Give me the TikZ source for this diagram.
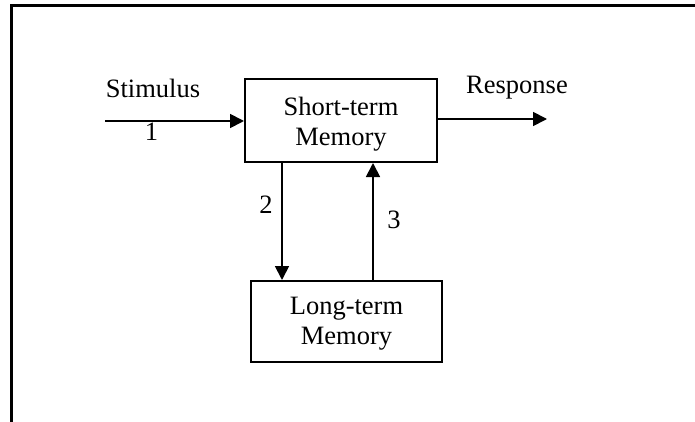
\documentclass[tikz,border=0pt]{standalone}
\usepackage{fontspec}
\setmainfont{Liberation Serif}
\usetikzlibrary{arrows.meta}
\begin{document}
\begin{tikzpicture}[x=1pt,y=-1pt,
  box/.style={draw,line width=2pt,minimum width=#1,inner sep=0pt,align=center,font=\fontsize{26.5}{30}\selectfont},
  lbl/.style={inner sep=0pt,font=\fontsize{26.5}{30}\selectfont},
  conn/.style={line width=1.8pt,-{Triangle[length=14pt,width=14pt]}}]
\useasboundingbox (0,0) rectangle (695,422);
\draw[line width=3pt] (11,422) -- (11,6) -- (695,6);
\node[box=192pt,minimum height=83pt] (stm) at (341,120.5) {};
\node[box=191pt,minimum height=81pt] (ltm) at (346.5,321.5) {};
\node[lbl,align=center] (stmt) at (341,124) {Short-term\\Memory};
\node[lbl,align=center] (ltmt) at (346.5,324) {Long-term\\Memory};
\coordinate (in) at (105,121);
\coordinate (out) at (547,119);
\draw[conn] (in) -- (in -| stm.west);
\draw[conn] (stm.east |- out) -- (out);
\coordinate (dn) at (282,0);
\coordinate (up) at (373,0);
\draw[conn] (dn |- stm.south) -- (dn |- ltm.north);
\draw[conn] (up |- ltm.north) -- (up |- stm.south);
\node[lbl] (stim) at (153,88) {Stimulus};
\node[lbl] (one) at (151.5,132) {1};
\node[lbl] (resp) at (517,88) {Response};
\node[lbl] (two) at (266,205) {2};
\node[lbl] (three) at (394,220) {3};
\end{tikzpicture}
\end{document}
